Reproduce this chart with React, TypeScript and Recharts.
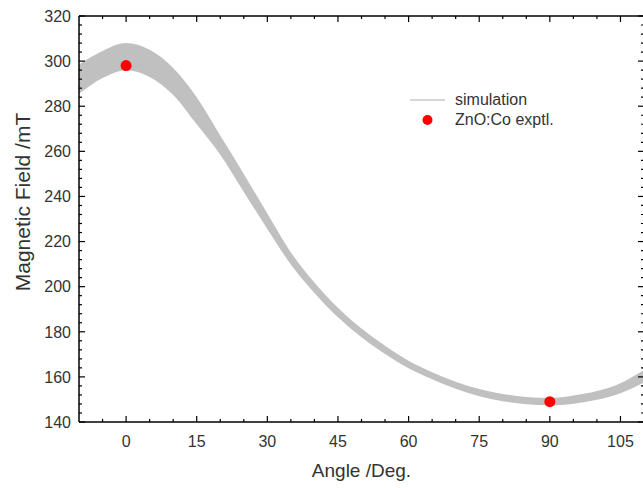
import React from 'react'
import { ComposedChart, Area, Scatter, XAxis, YAxis, Label } from 'recharts'

const angles = [-10, -5, 0, 5, 10, 15, 20, 25, 30, 35, 40, 45, 50, 55, 60, 65, 70, 75, 80, 85, 90, 95, 100, 105, 110]
const simLower = [285.5, 292.5, 296, 293, 285, 272, 258.5, 242, 225.6, 209.8, 197.2, 186.4, 177.6, 170.2, 163.8, 158.9, 154.7, 151.4, 149.2, 147.9, 147.4, 148.1, 149.9, 152.8, 157.5]
const simUpper = [298.5, 304.5, 308, 305, 297, 284, 267, 250, 232.4, 215.2, 201.8, 190.6, 181.4, 173.8, 167.2, 162.1, 157.9, 154.6, 152.4, 151.1, 150.6, 151.7, 153.7, 157.2, 163.1]

const exptAngles = [0, 90]
const exptField = [298, 149]

const xMajor = [0, 15, 30, 45, 60, 75, 90, 105]
const xMinor = [-5, 5, 10, 20, 25, 35, 40, 50, 55, 65, 70, 80, 85, 95, 100]
const yMajor = [140, 160, 180, 200, 220, 240, 260, 280, 300, 320]
const yMinor = Array.from({ length: 46 }, (_, i) => 140 + i * 4).filter((v) => v % 20 !== 0)

const simData = angles.map((a, i) => ({ angle: a, band: [simLower[i], simUpper[i]] }))
const exptData = exptAngles.map((a, i) => ({ angle: a, field: exptField[i] }))

const FONT = 'Arial, "Liberation Sans", sans-serif'
const TXT = '#333'
const MAJ = 6
const MIN = 3

const xTicks = [...xMinor, ...xMajor].sort((a, b) => a - b)
const yTicks = [...yMinor, ...yMajor].sort((a, b) => a - b)

const BottomTick = (p: any) => {
  const v = p.payload.value
  const major = xMajor.includes(v)
  return (
    <g>
      <line x1={p.x} x2={p.x} y1={p.y} y2={p.y - (major ? MAJ : MIN)} stroke="#000" strokeWidth={1.2} />
      {major && (
        <text x={p.x} y={p.y + 14} dy="0.71em" textAnchor="middle" fontSize={16} fontFamily={FONT} fill={TXT}>
          {v}
        </text>
      )}
    </g>
  )
}

const TopTick = (p: any) => {
  const major = xMajor.includes(p.payload.value)
  return <line x1={p.x} x2={p.x} y1={p.y} y2={p.y + (major ? MAJ : MIN)} stroke="#000" strokeWidth={1.2} />
}

const LeftTick = (p: any) => {
  const v = p.payload.value
  const major = yMajor.includes(v)
  return (
    <g>
      <line x1={p.x} x2={p.x + (major ? MAJ : MIN)} y1={p.y} y2={p.y} stroke="#000" strokeWidth={1.2} />
      {major && (
        <text x={p.x - 8} y={p.y} dy="0.36em" textAnchor="end" fontSize={16} fontFamily={FONT} fill={TXT}>
          {v}
        </text>
      )}
    </g>
  )
}

const RightTick = (p: any) => {
  const major = yMajor.includes(p.payload.value)
  return <line x1={p.x} x2={p.x - (major ? MAJ : MIN)} y1={p.y} y2={p.y} stroke="#000" strokeWidth={1.2} />
}

const YTitle = (p: any) => {
  const vb = p.viewBox
  const cy = vb.y + vb.height / 2 - 17
  return (
    <text x={22} y={cy} transform={`rotate(-90 22 ${cy})`} textAnchor="middle" dy="0.36em" fontSize={21} fontFamily={FONT} fill={TXT}>
      Magnetic Field /mT
    </text>
  )
}

const Dot = (p: any) => <circle cx={p.cx} cy={p.cy} r={5.5} fill="#ff0000" />

export default function App() {
  return (
    <div style={{ position: 'absolute', left: 0, top: 0, width: 643, height: 488, overflow: 'hidden', background: '#fff' }}>
      <ComposedChart width={646} height={488} data={simData} margin={{ top: 15, right: 1, bottom: 0, left: 0 }}>
        <XAxis
          xAxisId="b"
          dataKey="angle"
          type="number"
          domain={[-10, 110]}
          ticks={xTicks}
          interval={0}
          allowDataOverflow
          height={66}
          tickSize={0}
          tickMargin={0}
          tickLine={false}
          tick={BottomTick}
          axisLine={{ stroke: '#000', strokeWidth: 1.5 }}
        >
          <Label value="Angle /Deg." position="insideBottom" offset={11} fontSize={19} fontFamily={FONT} fill={TXT} />
        </XAxis>
        <XAxis
          xAxisId="t"
          orientation="top"
          dataKey="angle"
          type="number"
          domain={[-10, 110]}
          ticks={xTicks}
          interval={0}
          allowDataOverflow
          height={1}
          tickSize={0}
          tickMargin={0}
          tickLine={false}
          tick={TopTick}
          axisLine={{ stroke: '#000', strokeWidth: 1.5 }}
        />
        <YAxis
          yAxisId="l"
          type="number"
          domain={[140, 320]}
          ticks={yTicks}
          interval={0}
          allowDataOverflow
          width={79}
          tickSize={0}
          tickMargin={0}
          tickLine={false}
          tick={LeftTick}
          axisLine={{ stroke: '#000', strokeWidth: 1.5 }}
        >
          <Label position="insideLeft" content={YTitle} />
        </YAxis>
        <YAxis
          yAxisId="r"
          orientation="right"
          type="number"
          domain={[140, 320]}
          ticks={yTicks}
          interval={0}
          allowDataOverflow
          width={1}
          tickSize={0}
          tickMargin={0}
          tickLine={false}
          tick={RightTick}
          axisLine={{ stroke: '#000', strokeWidth: 1.5 }}
        />
        <Area
          xAxisId="b"
          yAxisId="l"
          dataKey="band"
          type="monotone"
          stroke="none"
          fill="#c0c0c0"
          fillOpacity={1}
          isAnimationActive={false}
          activeDot={false}
        />
        <Scatter
          xAxisId="b"
          yAxisId="l"
          data={exptData}
          dataKey="field"
          shape={Dot}
          isAnimationActive={false}
        />
      </ComposedChart>
      <div style={{ position: 'absolute', left: 405, top: 90, fontFamily: FONT, fontSize: 16, color: TXT, lineHeight: '20px' }}>
        <div style={{ display: 'flex', alignItems: 'center' }}>
          <svg width={50} height={20}>
            <line x1={5} x2={40} y1={10} y2={10} stroke="#c6c9d4" strokeWidth={1.5} />
          </svg>
          <span>simulation</span>
        </div>
        <div style={{ display: 'flex', alignItems: 'center' }}>
          <svg width={50} height={20}>
            <circle cx={22.5} cy={10} r={5} fill="#ff0000" />
          </svg>
          <span>ZnO:Co exptl.</span>
        </div>
      </div>
    </div>
  )
}
